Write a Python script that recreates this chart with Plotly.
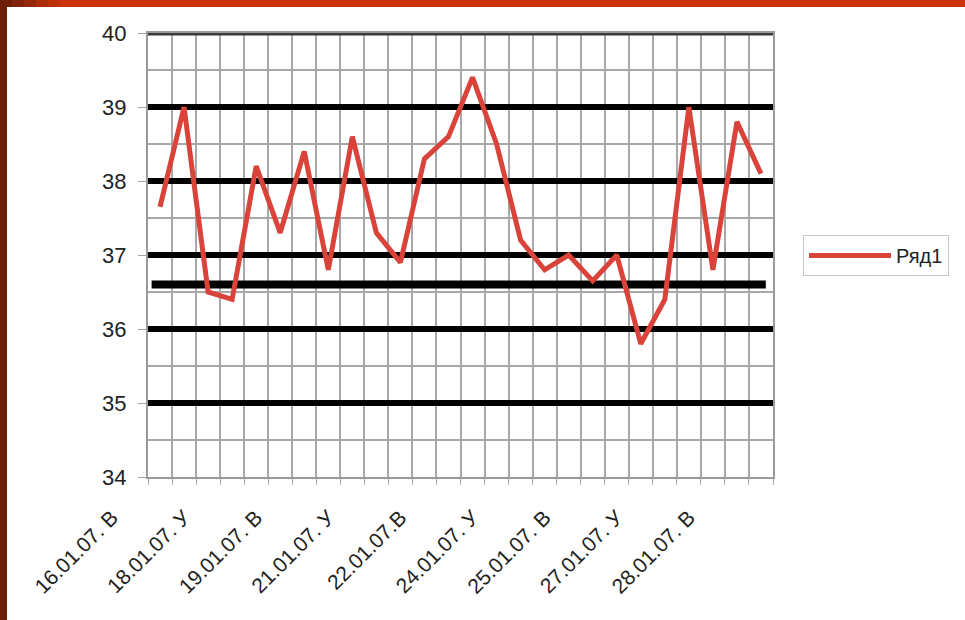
import plotly.graph_objects as go

# ---------------- data ----------------
categories = [
    "16.01.07. В", "17.01.07. У", "17.01.07. В", "18.01.07. У", "18.01.07. В",
    "19.01.07. У", "19.01.07. В", "20.01.07. У", "20.01.07. В", "21.01.07. У",
    "21.01.07. В", "22.01.07. У", "22.01.07.В", "23.01.07. У", "23.01.07. В",
    "24.01.07. У", "24.01.07. В", "25.01.07. У", "25.01.07. В", "26.01.07. У",
    "26.01.07. В", "27.01.07. У", "27.01.07. В", "28.01.07. У", "28.01.07. В",
    "29.01.07. У",
]
temperature = [
    37.65, 39.0, 36.5, 36.4, 38.2, 37.3, 38.4, 36.8, 38.6, 37.3,
    36.9, 38.3, 38.6, 39.4, 38.5, 37.2, 36.8, 37.0, 36.65, 37.0,
    35.8, 36.4, 39.0, 36.8, 38.8, 38.1,
]
series_name = "Ряд1"
label_step = 3
y_ticks = [34, 35, 36, 37, 38, 39, 40]
bold_levels = [35, 36, 37, 38, 39]
norm_level = 36.6
top_level = 40

# ---------------- layout geometry ----------------
W, H = 965, 620
L, R, T, B = 148, 192, 33, 143
PW, PH = W - L - R, H - T - B


def px_x(px):
    return (px - L) / PW


def px_y(py):
    return (H - B - py) / PH


idx = list(range(len(categories)))
tick_idx = idx[::label_step]
x_span = [idx[0] - 0.5, idx[-1] + 0.5]
norm_span = [idx[0] - 0.35, idx[-1] + 0.2]

fig = go.Figure()
# bold reference levels (drawn under the series, above the grid)
for lv in bold_levels:
    fig.add_trace(go.Scatter(
        x=x_span, y=[lv, lv], mode="lines", showlegend=False, hoverinfo="skip",
        line=dict(color="#000000", width=6), cliponaxis=False,
    ))
fig.add_trace(go.Scatter(
    x=norm_span, y=[norm_level, norm_level], mode="lines", showlegend=False,
    hoverinfo="skip", line=dict(color="#000000", width=8), cliponaxis=False,
))

fig.add_trace(go.Scatter(
    x=idx, y=temperature, mode="lines", name=series_name,
    line=dict(color="#d9433a", width=5),
))

shapes = [dict(type="line", xref="x domain", yref="y", x0=0, x1=1,
               y0=top_level, y1=top_level,
               line=dict(color="#3a3a3a", width=5), layer="above")]

# slide border decoration (left dark strip, top orange strip)
shapes.append(dict(type="rect", xref="paper", yref="paper",
                   x0=px_x(0), x1=px_x(965), y0=px_y(7), y1=px_y(0),
                   fillcolor="#cc3300", line=dict(width=0), layer="above"))
grad = ["#6e1e05", "#82220a", "#97270a", "#ab2c06", "#bd3003"]
for i, c in enumerate(grad):
    shapes.append(dict(type="rect", xref="paper", yref="paper",
                       x0=px_x(i * 12), x1=px_x(i * 12 + 12), y0=px_y(7), y1=px_y(0),
                       fillcolor=c, line=dict(width=0), layer="above"))
shapes.append(dict(type="rect", xref="paper", yref="paper",
                   x0=px_x(0), x1=px_x(7), y0=px_y(620), y1=px_y(0),
                   fillcolor="#6e1e05", line=dict(width=0), layer="above"))

fig.update_layout(
    width=W, height=H,
    margin=dict(l=L, r=R, t=T, b=B, pad=0),
    paper_bgcolor="#ffffff",
    plot_bgcolor="#ffffff",
    font=dict(family="Liberation Sans, Arial, sans-serif", color="#222222"),
    showlegend=True,
    legend=dict(
        x=px_x(803), y=px_y(235), xanchor="left", yanchor="top",
        bgcolor="#ffffff", bordercolor="#c8c8c8", borderwidth=1,
        font=dict(size=20, color="#222222"),
        itemwidth=82,
    ),
    shapes=shapes,
    xaxis=dict(
        range=x_span,
        tickmode="array", tickvals=tick_idx,
        ticktext=[categories[i] for i in tick_idx],
        tickangle=-45, ticks="", showgrid=False, zeroline=False,
        tickfont=dict(size=21, color="#222222"),
        ticklabelshift=-48, ticklabelstandoff=18,
        showline=True, linecolor="#9a9a9a", linewidth=2, mirror=True,
        minor=dict(tick0=-0.5, dtick=1, showgrid=True, gridcolor="#a8a8a8",
                   gridwidth=2, ticks="outside", ticklen=6, tickcolor="#a8a8a8"),
    ),
    yaxis=dict(
        range=[34, 40], tickmode="array", tickvals=y_ticks,
        showgrid=False, zeroline=False,
        ticks="outside", ticklen=8, tickcolor="#a0a0a0", tickwidth=1,
        tickfont=dict(size=22, color="#222222"),
        ticklabelstandoff=7,
        showline=True, linecolor="#9a9a9a", linewidth=2, mirror=True,
        minor=dict(dtick=0.5, tick0=34, showgrid=True, gridcolor="#a8a8a8",
                   gridwidth=2),
    ),
)

fig.write_html("out.html", config={"displayModeBar": False},
               post_script="document.body.style.margin='0';")
